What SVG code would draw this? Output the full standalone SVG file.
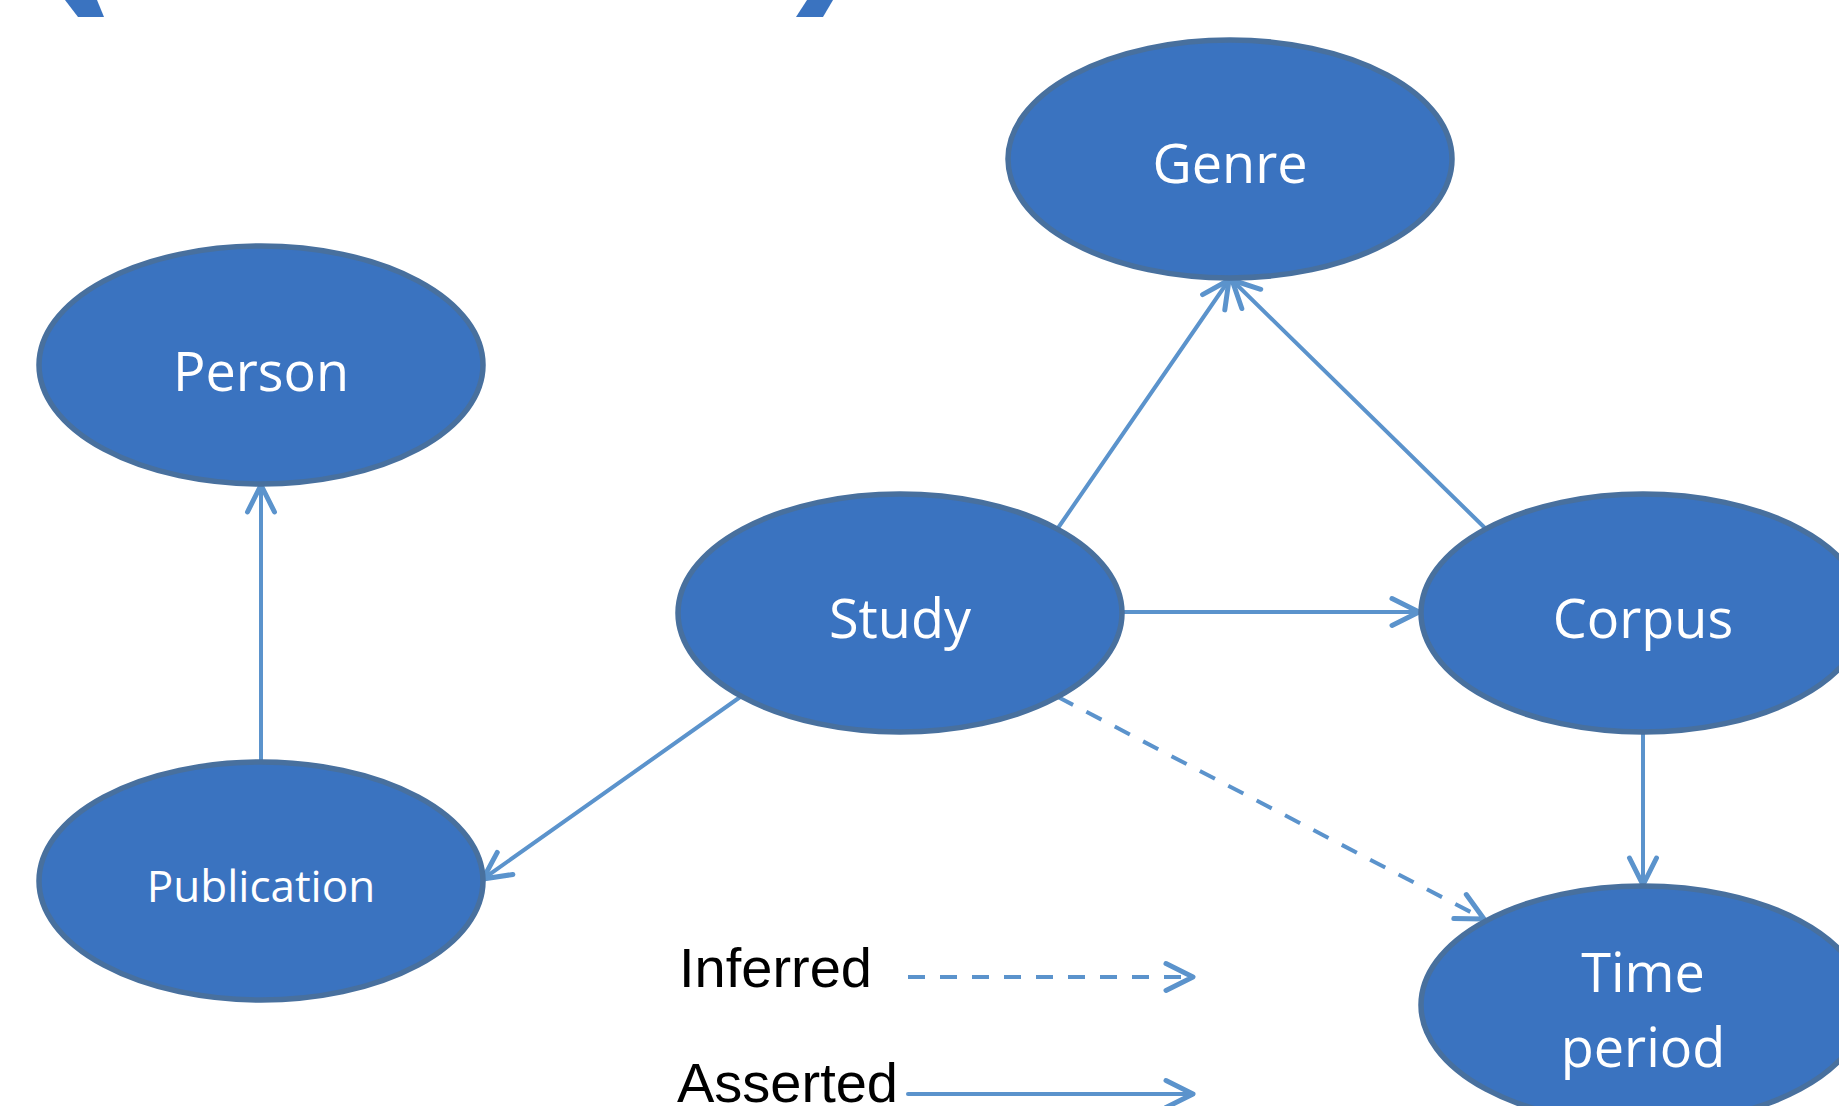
<svg xmlns="http://www.w3.org/2000/svg" width="1839" height="1106" viewBox="0 0 1839 1106">
<style>
.node{fill:#3a73c0;stroke:#48709e;stroke-width:5.5}
.lbl{font-family:"Open Sans","Noto Sans",sans-serif;font-size:54px;fill:#ffffff;text-anchor:middle}
.conn{fill:none;stroke:#5b93cc;stroke-width:4;stroke-linecap:round}
.dash{stroke-dasharray:17 15;stroke-linecap:butt}
.leg{font-family:"Liberation Sans",Arial,sans-serif;font-size:56px;fill:#000000}
</style>
<defs>
<marker id="arr" markerUnits="userSpaceOnUse" markerWidth="50" markerHeight="50" viewBox="-35 -25 50 50" refX="0" refY="0" orient="auto" overflow="visible">
<path d="M-27,-13.5 L0,0 L-27,13.5" fill="none" stroke="#5b93cc" stroke-width="5" stroke-linecap="round" stroke-linejoin="round"/>
</marker>
</defs>
<rect width="1839" height="1106" fill="#ffffff"/>
<g id="top-fragments">
<polygon points="65,0 97,0 104,17 78,17" fill="#3a73c0"/>
<polygon points="807,0 833,0 823,17 796,17" fill="#3a73c0"/>
</g>
<g id="connectors">
<line class="conn" x1="261" y1="761" x2="261" y2="485" marker-end="url(#arr)"/>
<line class="conn" x1="1058" y1="528" x2="1229" y2="280" marker-end="url(#arr)"/>
<line class="conn" x1="1487" y1="530" x2="1232" y2="280" marker-end="url(#arr)"/>
<line class="conn" x1="1123" y1="612" x2="1419" y2="612" marker-end="url(#arr)"/>
<line class="conn" x1="743" y1="695" x2="483" y2="879" marker-end="url(#arr)"/>
<line class="conn dash" x1="1058" y1="697" x2="1484" y2="919" marker-end="url(#arr)"/>
<line class="conn" x1="1643" y1="733" x2="1643" y2="885" marker-end="url(#arr)"/>
</g>
<g id="node-genre">
<ellipse class="node" cx="1230" cy="159" rx="222" ry="119"/>
<text class="lbl" x="1230" y="183">Genre</text>
</g>
<g id="node-person">
<ellipse class="node" cx="261" cy="365" rx="222" ry="119"/>
<text class="lbl" x="261" y="391">Person</text>
</g>
<g id="node-study">
<ellipse class="node" cx="900" cy="613" rx="222" ry="119"/>
<text class="lbl" x="900" y="638">Study</text>
</g>
<g id="node-corpus">
<ellipse class="node" cx="1643" cy="613" rx="222" ry="119"/>
<text class="lbl" x="1643" y="638">Corpus</text>
</g>
<g id="node-publication">
<ellipse class="node" cx="261" cy="881" rx="222" ry="119"/>
<text class="lbl" x="261" y="902" style="font-size:44px">Publication</text>
</g>
<g id="node-time-period">
<ellipse class="node" cx="1643" cy="1005" rx="222" ry="119"/>
<text class="lbl" x="1643" y="992">Time</text>
<text class="lbl" x="1643" y="1067">period</text>
</g>
<g id="legend">
<text class="leg" x="679" y="987">Inferred</text>
<line class="conn dash" x1="908" y1="977" x2="1193" y2="977" marker-end="url(#arr)"/>
<text class="leg" x="677" y="1102">Asserted</text>
<line class="conn" x1="908" y1="1094" x2="1193" y2="1094" marker-end="url(#arr)"/>
</g>
</svg>
